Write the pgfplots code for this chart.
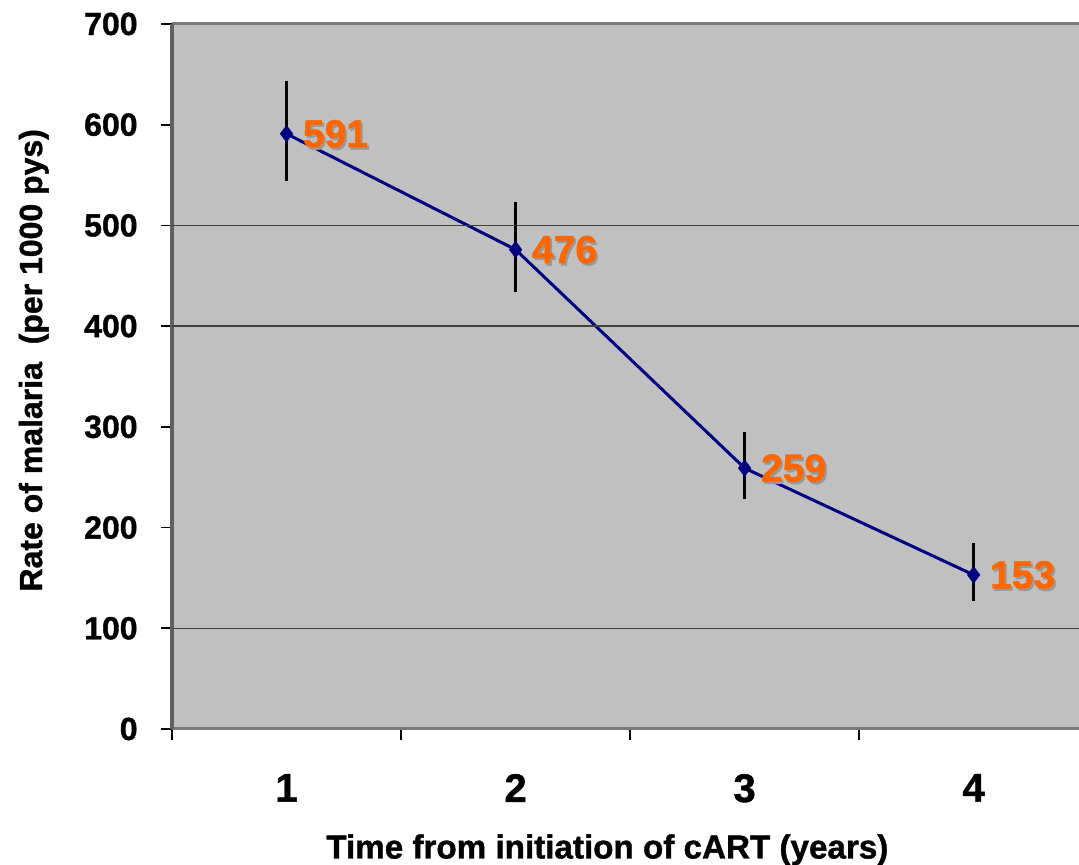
\documentclass[border=0pt]{standalone}
\usepackage{fontspec}
\setmainfont{Liberation Sans}[BoldFeatures={FakeBold=1.2}]
\usepackage{pgfplots}
\pgfplotsset{compat=1.18}
\definecolor{bgc}{RGB}{192,192,192}
\definecolor{navyc}{RGB}{0,0,128}
\definecolor{orangec}{RGB}{255,102,0}
\definecolor{gridc}{RGB}{64,64,64}
\begin{document}
\begin{tikzpicture}
\begin{axis}[
  scale only axis,
  width=453.5pt, height=352.5pt,
  xmin=0.5, xmax=4.46, ymin=0, ymax=700,
  axis background/.style={fill=bgc},
  axis x line*=box, axis y line*=left,
  x axis line style={draw=gray!95!black, line width=1.5pt},
  y axis line style={draw=black!62, line width=1.5pt},
  tick align=outside,
  xtick pos=bottom, ytick pos=left,
  major tick length=5.5pt,
  every tick/.style={black, line width=0.9pt},
  xtick={0.5,1.5,2.5,3.5}, xticklabels={},
  extra x ticks={1,2,3,4},
  extra x tick labels={1,2,3,4},
  extra x tick style={major tick length=0pt,
    tick label style={font=\fontsize{20}{24}\selectfont\bfseries, yshift=-19pt}},
  ytick={0,100,...,700},
  yticklabel style={font=\fontsize{16}{19}\selectfont\bfseries, inner sep=0pt, xshift=-11.5pt},
  /pgf/number format/assume math mode=true,
  ymajorgrids=false,
  after end axis/.code={
    \foreach \g in {100,400,500}{\draw[gridc, line width=0.75pt] (axis cs:0.5,\g) -- (axis cs:4.46,\g);}
  },
  xlabel={Time from initiation of cART (years)},
  xlabel style={font=\fontsize{16.6}{19}\selectfont\bfseries, at={(axis description cs:0.48,0)}, anchor=north, inner sep=0pt, yshift=-52.5pt},
  ylabel={Rate of malaria\ \ (per 1000 pys)},
  ylabel style={font=\fontsize{16}{19}\selectfont\bfseries, at={(axis description cs:-0.1433,0.523)}, anchor=base, inner sep=0pt},
  clip=false,
]
% shadow labels
\addplot[draw=none, mark=none,
  nodes near coords, point meta=explicit symbolic,
  every node near coord/.style={anchor=west, inner sep=0pt, xshift=9pt, yshift=-1.2pt, text=black!40,
    font=\fontsize{19.5}{22}\selectfont\bfseries}]
  coordinates {(1,591)[591] (2,476)[476] (3,259)[259] (4,153)[153]};
\addplot[navyc, line width=1.5pt, mark=diamond*, mark size=4pt,
  mark options={fill=navyc, draw=navyc, line width=0.5pt},
  error bars/.cd, y dir=both, y explicit, error mark=none,
  error bar style={black, line width=1.6pt}]
  coordinates {
    (1,591) += (0,52) -= (0,47)
    (2,476) += (0,47) -= (0,42)
    (3,259) += (0,36) -= (0,31)
    (4,153) += (0,32) -= (0,26)
  };
\addplot[draw=none, mark=none,
  nodes near coords, point meta=explicit symbolic,
  every node near coord/.style={anchor=west, inner sep=0pt, xshift=8pt, text=orangec,
    font=\fontsize{19.5}{22}\selectfont\bfseries}]
  coordinates {(1,591)[591] (2,476)[476] (3,259)[259] (4,153)[153]};
\end{axis}
\pgfresetboundingbox
\path[use as bounding box] (-86pt,-68pt) rectangle (453.5pt,364.5pt);
\end{tikzpicture}
\end{document}
